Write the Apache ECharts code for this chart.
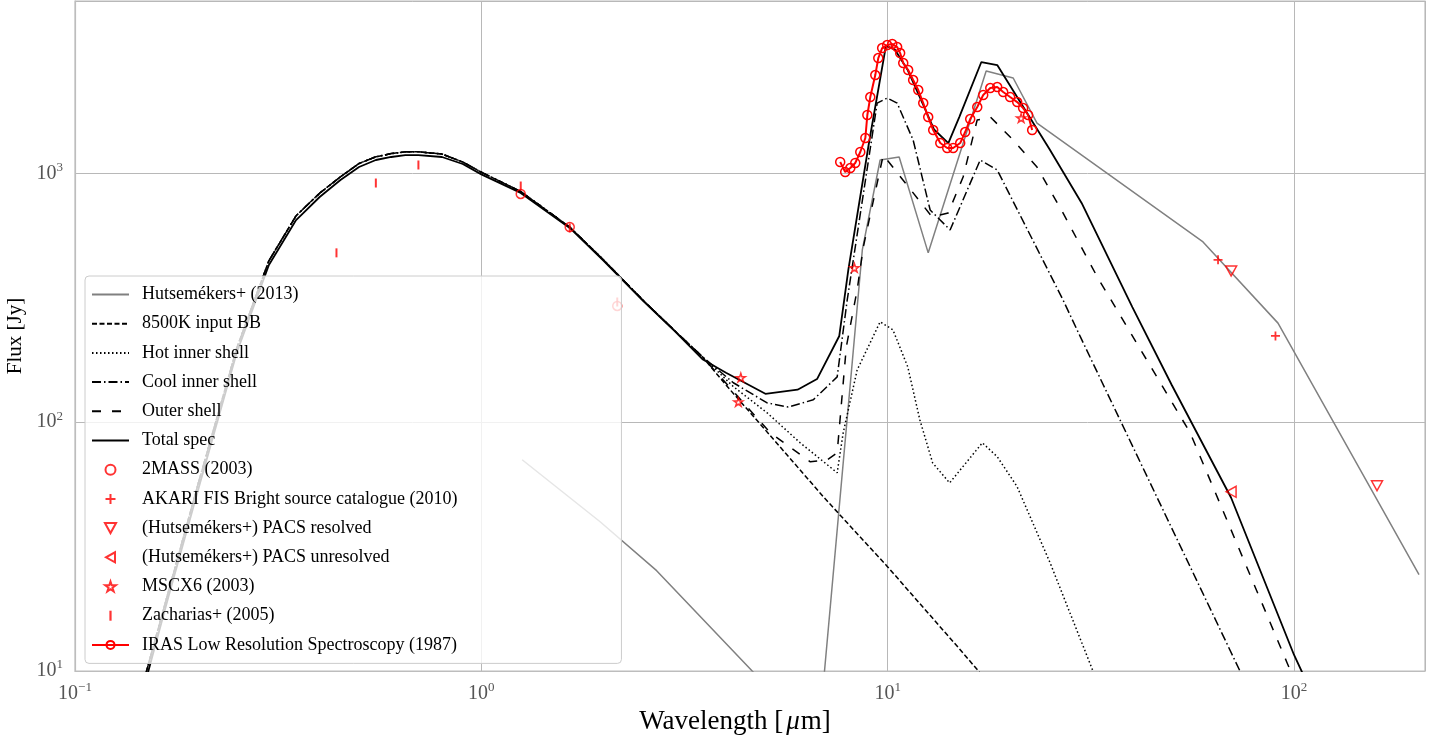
<!DOCTYPE html>
<html><head><meta charset="utf-8">
<script src="https://cdn.jsdelivr.net/npm/echarts@6/dist/echarts.min.js"></script>
<style>html,body{margin:0;padding:0;background:#fff}#c{width:1437px;height:740px}</style>
</head><body><div id="c"></div>
<script>
// ---------- data (wavelength in micron, flux in Jy) ----------
const hutsWl = [1.26, 1.96, 2.70, 4.64, 6.75, 8.66, 9.58, 10.67, 12.58, 17.47, 20.36, 23.3, 59.7, 91.3, 203];
const hutsF  = [70.6, 39.8, 25.3, 10, 5.3, 492, 1131, 1162, 479, 2575, 2415, 1592, 530, 250, 24.4];

const bbWl = [0.14, 0.15, 0.17, 0.2, 0.25, 0.3, 0.35, 0.4, 0.45, 0.5, 0.55, 0.6, 0.65, 0.7, 0.8, 0.9, 1.0, 1.25, 1.65, 2.0, 2.5, 3.0, 3.5, 4, 5, 7, 10, 15, 20, 25];
const bbF  = [5.3, 10, 21, 55, 198, 445, 675, 832, 968, 1095, 1165, 1200, 1220, 1220, 1195, 1110, 1010, 845, 608, 448, 309, 232, 183, 141, 93, 49.4, 26.2, 12.3, 7.1, 4.5];

const hotWl = [0.14, 0.15, 0.17, 0.2, 0.25, 0.3, 0.35, 0.4, 0.45, 0.5, 0.55, 0.6, 0.65, 0.7, 0.8, 0.9, 1.0, 1.25, 1.65, 2.0, 2.5, 3.0, 3.5, 4.17, 5.05, 6.09, 7.51, 7.77, 8.41, 9.58, 10.3, 11.2, 12.0, 12.9, 14.2, 17.1, 18.6, 20.8, 25.1, 32.0, 39.5];
const hotF  = [5.3, 10, 21, 55, 198, 445, 675, 832, 968, 1095, 1165, 1200, 1220, 1220, 1195, 1110, 1010, 845, 608, 448, 309, 232, 183, 139, 109, 82.6, 62.6, 90.6, 162, 253, 235, 167, 102, 68.6, 57, 82.6, 72.6, 55.2, 27.2, 10.0, 4.0];

const coolWl = [0.14, 0.15, 0.17, 0.2, 0.25, 0.3, 0.35, 0.4, 0.45, 0.5, 0.55, 0.6, 0.65, 0.7, 0.8, 0.9, 1.0, 1.25, 1.65, 2.0, 2.5, 3.0, 3.5, 4.17, 5.05, 5.69, 6.56, 7.51, 7.95, 9.42, 9.97, 10.55, 11.55, 12.72, 14.24, 16.89, 18.6, 27.0, 29.8, 73.6, 100];
const coolF  = [5.3, 10, 21, 55, 198, 445, 675, 832, 968, 1095, 1165, 1200, 1220, 1220, 1195, 1110, 1010, 845, 608, 448, 309, 232, 183, 144, 119.5, 115, 123, 152, 310, 1915, 2006, 1915, 1360, 712, 592, 1131, 1031, 310, 220, 10, 3.0];

const outerWl = [0.14, 0.15, 0.17, 0.2, 0.25, 0.3, 0.35, 0.4, 0.45, 0.5, 0.55, 0.6, 0.65, 0.7, 0.8, 0.9, 1.0, 1.25, 1.65, 2.0, 2.5, 3.0, 3.5, 5.14, 6.45, 7.10, 7.51, 7.91, 8.41, 8.71, 9.75, 12.87, 14.09, 15.33, 16.6, 17.9, 20.36, 23.3, 27.0, 32.8, 55.5, 96.1, 120];
const outerF  = [5.3, 10, 21, 55, 198, 445, 675, 832, 968, 1095, 1165, 1200, 1220, 1220, 1195, 1110, 1010, 845, 608, 448, 309, 232, 183, 90.6, 69.3, 70.6, 75.3, 201, 340, 506, 1184, 667, 693, 966, 1637, 1683, 1360, 1060, 693, 383, 90.6, 10.8, 4.6];

const totalWl = [0.14, 0.15, 0.17, 0.2, 0.25, 0.3, 0.35, 0.4, 0.45, 0.5, 0.55, 0.6, 0.65, 0.7, 0.8, 0.9, 1.0, 1.25, 1.65, 2.0, 2.5, 3.0, 3.5, 4.0, 5.0, 6.0, 6.7, 7.6, 8.0, 9.0, 9.9, 10.4, 11.2, 12.2, 13.0, 14.1, 15.0, 17.0, 18.6, 25, 30, 40, 50, 70, 100, 150];
const totalF  = [5, 9.4, 20, 52, 190, 428, 649, 803, 940, 1060, 1131, 1163, 1183, 1184, 1163, 1090, 990, 834, 603, 445, 307, 231, 179, 158, 130, 135, 149, 222, 409, 1336, 3250, 3150, 2600, 1900, 1500, 1323, 1683, 2800, 2723, 1252, 760, 290, 141, 49.7, 11.6, 2.8];

const twomassWl = [1.25, 1.65, 2.16];
const twomassF  = [826, 608, 293];
const akariWl = [65, 90];
const akariF  = [449, 222];
const pacsResWl = [70, 160];
const pacsResF  = [405, 55.5];
const pacsUnresWl = [70];
const pacsUnresF  = [52.5];
const msxWl = [4.29, 4.35, 8.28, 21.3];
const msxF  = [120.6, 151, 417, 1668];
const zachWl = [0.44, 0.55, 0.70, 1.25, 1.65, 2.16];
const zachF  = [479, 914, 1080, 889, 603, 304];
const irasWl = [7.64, 7.86, 8.09, 8.32, 8.56, 8.81, 8.91, 9.06, 9.32, 9.48, 9.69, 9.97, 10.26, 10.55, 10.73, 10.92, 11.23, 11.55, 11.89, 12.23, 12.58, 12.94, 13.47, 14.01, 14.49, 15.08, 15.51, 15.96, 16.61, 17.18, 17.88, 18.60, 19.24, 20.01, 20.83, 21.54, 22.16, 22.67];
const irasF  = [1110, 1012, 1050, 1100, 1218, 1386, 1715, 2025, 2482, 2905, 3186, 3276, 3306, 3216, 3042, 2773, 2600, 2370, 2160, 1915, 1683, 1492, 1323, 1264, 1264, 1323, 1465, 1652, 1846, 2063, 2201, 2221, 2121, 2025, 1933, 1829, 1715, 1492];

const names = {
  huts: 'Hutsemékers+ (2013)', bb: '8500K input BB', hot: 'Hot inner shell', cool: 'Cool inner shell',
  outer: 'Outer shell', total: 'Total spec', twomass: '2MASS (2003)', akari: 'AKARI FIS Bright source catalogue (2010)',
  pacsRes: '(Hutsemékers+) PACS resolved', pacsUnres: '(Hutsemékers+) PACS unresolved', msx: 'MSCX6 (2003)',
  zach: 'Zacharias+ (2005)', iras: 'IRAS Low Resolution Spectroscopy (1987)'
};

// ---------- helpers ----------
const zip = (a, b) => a.map((v, i) => [v, b[i]]);
const SERIF = 'Liberation Serif';
const RED = '#ff0000';
const CLEAR = 'rgba(255,255,255,0)';
const PLUS = 'path://M4,0 H6 V4 H10 V6 H6 V10 H4 V6 H0 V4 H4 Z';
const STAR = 'path://M50,0 L61,35 L98,35 L68,57 L79,91 L50,70 L21,91 L32,57 L2,35 L39,35 Z';
const TRI_DOWN = 'path://M0,0 L10,0 L5,9 Z';
const TRI_LEFT = 'path://M9,0 L9,10 L0,5 Z';
const VBAR = 'path://M0,0 H2 V9 H0 Z';

function lineSeries(name, wl, f, color, width, type) {
  return { name, type: 'line', data: zip(wl, f), showSymbol: false, symbol: 'none',
    lineStyle: { color, width, type }, itemStyle: { color: CLEAR, borderWidth: 0 }, z: 3, silent: true, clip: true };
}
function scatterSeries(name, wl, f, symbol, size, hollow) {
  return { name, type: 'scatter', data: zip(wl, f), symbol, symbolSize: size, symbolKeepAspect: true,
    itemStyle: hollow ? { color: CLEAR, borderColor: RED, borderWidth: 1.5 } : { color: RED },
    z: 6, silent: true, clip: false };
}
function supLabel(v) {
  const l = Math.log10(v); const e = Math.round(l);
  if (Math.abs(l - e) > 1e-6) return '';
  return '{b|10}{s|' + (e < 0 ? '\u2212' + (-e) : e) + '}';
}
const labelRich = {
  b: { fontFamily: SERIF, fontSize: 20, color: '#555555' },
  s: { fontFamily: SERIF, fontSize: 13, color: '#555555', padding: [0, 0, 12, 0] }
};

const series = [
  lineSeries(names.huts, hutsWl, hutsF, '#808080', 1.5, 'solid'),
  lineSeries(names.bb, bbWl, bbF, '#000', 1.5, [5, 2.5]),
  lineSeries(names.hot, hotWl, hotF, '#000', 1.5, [1.5, 2.5]),
  lineSeries(names.cool, coolWl, coolF, '#000', 1.5, [9, 3, 1.5, 3]),
  lineSeries(names.outer, outerWl, outerF, '#000', 1.5, [9, 11]),
  lineSeries(names.total, totalWl, totalF, '#000', 1.8, 'solid'),
  scatterSeries(names.twomass, twomassWl, twomassF, 'circle', 9, true),
  scatterSeries(names.akari, akariWl, akariF, PLUS, 9, false),
  scatterSeries(names.pacsRes, pacsResWl, pacsResF, TRI_DOWN, 11, true),
  scatterSeries(names.pacsUnres, pacsUnresWl, pacsUnresF, TRI_LEFT, 11, true),
  scatterSeries(names.msx, msxWl, msxF, STAR, 9, true),
  scatterSeries(names.zach, zachWl, zachF, 'rect', [2, 9], false),
  { name: names.iras, type: 'line', data: zip(irasWl, irasF), symbol: 'circle', symbolSize: 9, showSymbol: true,
    lineStyle: { color: RED, width: 2 }, itemStyle: { color: CLEAR, borderColor: RED, borderWidth: 1.5 },
    z: 5, silent: true, clip: true }
];

const legendData = Object.values(names).map(n => n === names.zach ? { name: n, icon: VBAR } : n);

const chart = echarts.init(document.getElementById('c'), null, { renderer: 'canvas' });
chart.setOption({
  animation: false,
  backgroundColor: '#ffffff',
  grid: { left: 75, right: 12, top: 1, bottom: 69, show: true, borderColor: '#bdbdbd', borderWidth: 1.2,
    containLabel: false, outerBoundsMode: 'none' },
  xAxis: {
    type: 'log', logBase: 10, min: 0.1, max: 210,
    axisLine: { show: true, lineStyle: { color: '#bdbdbd', width: 1.2 } },
    axisTick: { show: false }, minorTick: { show: false },
    splitLine: { show: true, lineStyle: { color: '#b8b8b8', width: 1 } },
    axisLabel: { formatter: supLabel, rich: labelRich, margin: 10, showMaxLabel: false },
    name: 'Wavelength [{i|μ}m]', nameLocation: 'middle', nameGap: 37,
    nameTextStyle: { fontFamily: SERIF, fontSize: 27, color: '#000', padding: [0, 30, 0, 0],
      rich: { i: { fontFamily: SERIF, fontSize: 27, fontStyle: 'italic', color: '#000', padding: [0, 1, 0, 3] } } }
  },
  yAxis: {
    type: 'log', logBase: 10, min: 10, max: 4925,
    axisLine: { show: true, lineStyle: { color: '#bdbdbd', width: 1.2 } },
    axisTick: { show: false }, minorTick: { show: false },
    splitLine: { show: true, lineStyle: { color: '#b8b8b8', width: 1 } },
    axisLabel: { formatter: supLabel, rich: labelRich, margin: 12, showMaxLabel: false },
    name: 'Flux [Jy]', nameLocation: 'middle', nameGap: 46, nameRotate: 90,
    nameTextStyle: { fontFamily: SERIF, fontSize: 21, color: '#000' }
  },
  legend: {
    orient: 'vertical', left: 85, top: 276,
    itemWidth: 37, itemHeight: 10, itemGap: 8.2,
    backgroundColor: 'rgba(255,255,255,0.8)', borderColor: '#cccccc', borderWidth: 1, borderRadius: 4,
    padding: [8, 164, 8, 6],
    textStyle: { fontFamily: SERIF, fontSize: 18, color: '#000', lineHeight: 21, padding: [0, 0, 0, 8] },
    selectedMode: false, z: 10,
    data: legendData
  },
  series
});
</script></body></html>
